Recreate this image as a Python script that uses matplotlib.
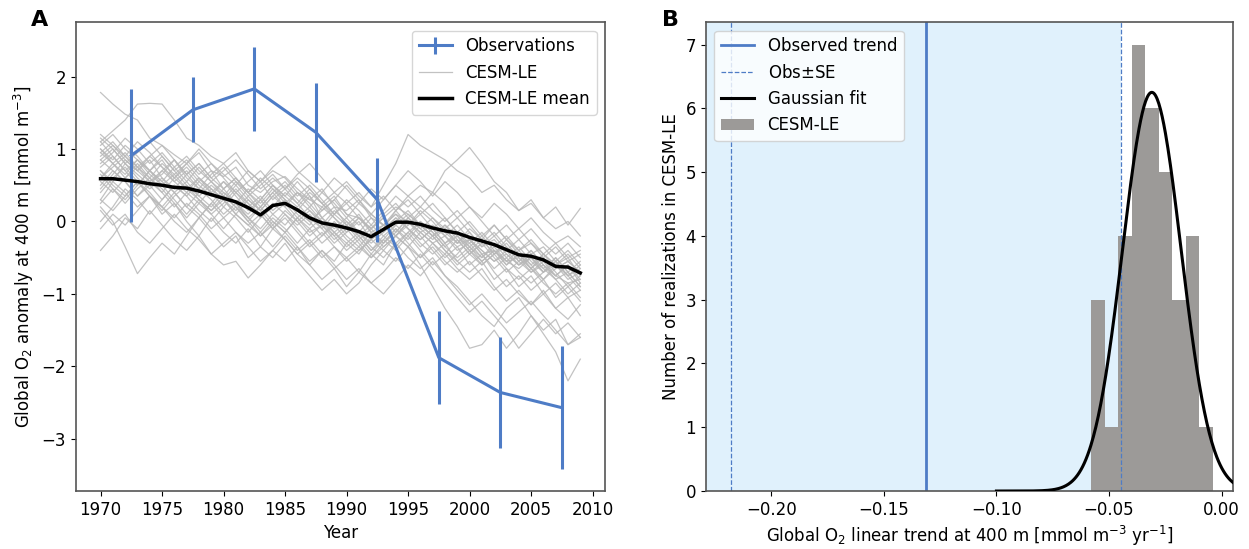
import numpy as np
import matplotlib
matplotlib.use("Agg")
from matplotlib import pyplot as plt

# ---- panel A data ----
years = np.arange(1970, 2010)

obs_years = [1972.5, 1977.5, 1982.5, 1987.5, 1992.5, 1997.5, 2002.5, 2007.5]
obs_vals = [0.91, 1.54, 1.83, 1.23, 0.30, -1.88, -2.36, -2.57]
obs_err = [0.92, 0.45, 0.58, 0.68, 0.58, 0.64, 0.76, 0.85]

le_mean = [0.59, 0.59, 0.57, 0.55, 0.52, 0.50, 0.47, 0.46, 0.42, 0.37,
           0.32, 0.27, 0.19, 0.09, 0.22, 0.25, 0.16, 0.05, -0.02, -0.05,
           -0.09, -0.14, -0.21, -0.11, -0.01, -0.01, -0.04, -0.09, -0.13, -0.16,
           -0.22, -0.27, -0.32, -0.39, -0.46, -0.48, -0.53, -0.62, -0.63, -0.71]

members = [
    [1.78, 1.62, 1.48, 1.40, 1.15, 1.05, 0.92, 0.80, 0.95, 0.70, 0.62, 0.75, 0.50, 0.40, 0.55, 0.62, 0.45, 0.30, 0.20, 0.35,
     0.10, 0.05, -0.10, 0.05, 0.20, 0.10, -0.05, -0.20, -0.10, -0.30, -0.25, -0.45, -0.40, -0.55, -0.50, -0.70, -0.60, -0.75, -0.85, -0.80],
    [1.10, 1.25, 1.40, 1.62, 1.63, 1.62, 1.40, 1.15, 1.05, 0.90, 0.80, 0.95, 0.70, 0.55, 0.70, 0.60, 0.40, 0.30, 0.45, 0.20,
     0.15, 0.30, 0.05, -0.05, 0.10, 0.00, -0.15, -0.05, -0.20, -0.35, -0.25, -0.40, -0.55, -0.45, -0.60, -0.50, -0.65, -0.80, -0.70, -0.90],
    [0.20, 0.00, -0.35, -0.72, -0.50, -0.30, -0.45, -0.20, 0.05, -0.15, -0.35, -0.20, -0.50, -0.35, -0.10, -0.25, -0.45, -0.60, -0.40, -0.55,
     -0.30, -0.45, -0.20, -0.05, 0.10, -0.10, -0.30, -0.45, -0.30, -0.55, -0.70, -0.55, -0.80, -0.65, -0.90, -0.75, -1.00, -0.85, -1.05, -0.95],
    [-0.40, -0.20, 0.05, -0.10, 0.15, -0.05, -0.25, -0.40, -0.20, -0.45, -0.60, -0.55, -0.78, -0.60, -0.40, -0.55, -0.35, -0.60, -0.80, -0.65,
     -0.90, -0.70, -0.45, -0.60, -0.30, -0.50, -0.65, -0.50, -0.75, -0.90, -1.10, -1.30, -1.45, -1.20, -1.05, -1.30, -1.50, -1.35, -1.70, -1.55],
    [0.30, 0.55, 0.40, 0.20, 0.35, 0.10, 0.25, 0.00, -0.20, 0.05, -0.15, -0.30, -0.10, -0.35, -0.50, -0.30, -0.55, -0.75, -0.95, -0.80,
     -1.00, -0.85, -0.60, -0.40, -0.55, -0.35, -0.60, -0.90, -1.20, -1.45, -1.75, -1.70, -1.50, -1.75, -1.55, -1.30, -1.55, -1.80, -2.20, -1.90],
    [0.60, 0.75, 0.90, 0.70, 0.55, 0.70, 0.85, 0.60, 0.45, 0.65, 0.80, 0.60, 0.40, 0.55, 0.30, 0.45, 0.60, 0.45, 0.25, 0.40,
     0.55, 0.35, 0.20, 0.50, 0.80, 1.20, 1.05, 0.95, 0.85, 0.70, 0.60, 0.40, 0.50, 0.30, 0.15, 0.25, 0.05, -0.10, 0.00, -0.20],
    [0.90, 1.05, 0.85, 0.70, 0.90, 0.75, 0.55, 0.70, 0.50, 0.35, 0.55, 0.40, 0.20, 0.35, 0.15, 0.30, 0.10, -0.05, 0.20, 0.05,
     -0.15, 0.00, -0.25, -0.10, 0.15, 0.35, 0.50, 0.40, 0.70, 0.85, 1.02, 0.80, 0.55, 0.40, 0.15, 0.30, 0.05, 0.20, -0.05, 0.18],
    [1.00, 0.85, 1.05, 0.90, 0.70, 0.85, 0.60, 0.75, 0.55, 0.70, 0.45, 0.60, 0.40, 0.25, 0.45, 0.30, 0.15, 0.35, 0.05, 0.20,
     -0.05, 0.10, -0.15, -0.05, -0.20, 0.00, -0.15, -0.30, -0.20, -0.40, -0.30, -0.50, -0.35, -0.55, -0.65, -0.50, -0.70, -0.60, -0.80, -0.70],
    [0.70, 0.55, 0.80, 0.65, 0.50, 0.30, 0.50, 0.35, 0.55, 0.40, 0.20, 0.40, 0.25, 0.05, 0.20, 0.40, 0.25, 0.05, -0.10, 0.10,
     -0.05, -0.25, -0.10, -0.30, -0.15, 0.05, -0.10, 0.05, -0.15, -0.30, -0.10, -0.25, -0.45, -0.30, -0.50, -0.65, -0.45, -0.60, -0.50, -0.75],
    [0.50, 0.70, 0.55, 0.35, 0.55, 0.40, 0.20, 0.40, 0.60, 0.45, 0.30, 0.10, 0.30, 0.15, 0.35, 0.50, 0.30, 0.15, 0.00, -0.20,
     -0.05, -0.20, -0.40, -0.20, -0.05, -0.20, 0.00, -0.15, -0.35, -0.20, -0.40, -0.55, -0.40, -0.60, -0.45, -0.60, -0.80, -0.65, -0.55, -0.70],
    [0.80, 0.95, 1.15, 1.00, 0.80, 0.95, 0.75, 0.90, 0.70, 0.55, 0.70, 0.85, 0.65, 0.45, 0.60, 0.45, 0.65, 0.80, 0.60, 0.40,
     0.25, 0.40, 0.20, 0.35, 0.15, 0.30, 0.10, 0.25, 0.05, -0.15, 0.00, -0.20, -0.05, -0.25, -0.40, -0.30, -0.50, -0.35, -0.55, -0.45],
    [0.30, 0.15, 0.35, 0.55, 0.40, 0.20, 0.05, 0.25, 0.10, -0.10, 0.05, 0.20, 0.00, -0.20, -0.05, -0.25, -0.45, -0.30, -0.50, -0.35,
     -0.55, -0.40, -0.25, -0.40, -0.20, -0.35, -0.15, -0.30, -0.50, -0.35, -0.60, -0.45, -0.70, -0.90, -0.75, -0.95, -0.80, -1.05, -0.90, -1.10],
    [1.15, 1.00, 0.80, 0.95, 1.10, 0.90, 0.70, 0.85, 0.65, 0.80, 0.60, 0.40, 0.55, 0.70, 0.50, 0.35, 0.55, 0.35, 0.15, 0.30,
     0.50, 0.30, 0.10, -0.05, 0.15, -0.05, 0.10, -0.10, 0.05, -0.15, -0.30, -0.15, -0.35, -0.20, -0.40, -0.25, -0.45, -0.60, -0.45, -0.65],
    [0.00, 0.20, 0.45, 0.30, 0.10, 0.30, 0.50, 0.35, 0.15, 0.00, 0.20, 0.05, -0.15, 0.05, 0.25, 0.10, -0.10, -0.30, -0.15, -0.35,
     -0.50, -0.35, -0.15, -0.30, -0.10, -0.30, -0.50, -0.35, -0.55, -0.70, -0.55, -0.75, -0.95, -0.80, -1.00, -1.15, -0.95, -1.20, -1.05, -1.30],
    [0.95, 0.80, 0.60, 0.75, 0.55, 0.65, 0.85, 0.65, 0.80, 0.60, 0.45, 0.60, 0.40, 0.20, 0.40, 0.55, 0.35, 0.50, 0.30, 0.10,
     0.25, 0.05, -0.10, 0.05, -0.15, 0.05, 0.20, 0.05, -0.10, 0.05, -0.15, -0.35, -0.20, -0.40, -0.25, -0.45, -0.35, -0.55, -0.40, -0.60],
    [0.65, 0.45, 0.25, 0.45, 0.60, 0.45, 0.25, 0.05, 0.25, 0.10, -0.10, 0.10, -0.05, -0.20, 0.00, -0.15, 0.05, -0.10, -0.30, -0.15,
     -0.35, -0.20, -0.40, -0.25, -0.40, -0.20, -0.40, -0.60, -0.45, -0.65, -0.80, -0.65, -0.90, -1.10, -0.95, -1.15, -1.00, -1.20, -1.35, -1.15],
    [1.20, 1.05, 0.90, 1.10, 0.95, 0.75, 0.60, 0.80, 1.00, 0.80, 0.65, 0.50, 0.70, 0.55, 0.75, 0.90, 0.70, 0.55, 0.40, 0.60,
     0.45, 0.25, 0.45, 0.30, 0.50, 0.35, 0.20, 0.40, 0.25, 0.05, 0.20, 0.00, -0.20, -0.05, -0.25, -0.10, -0.30, -0.45, -0.30, -0.50],
    [0.40, 0.60, 0.75, 0.55, 0.35, 0.15, 0.35, 0.50, 0.30, 0.10, 0.25, 0.45, 0.25, 0.10, -0.10, 0.10, -0.05, 0.10, -0.10, -0.30,
     -0.15, 0.05, -0.15, -0.35, -0.20, 0.00, -0.20, -0.40, -0.60, -0.45, -0.25, -0.45, -0.65, -0.50, -0.70, -0.85, -0.70, -0.50, -0.70, -0.90],
    [0.85, 0.70, 0.55, 0.35, 0.50, 0.70, 0.55, 0.40, 0.25, 0.45, 0.30, 0.15, 0.35, 0.15, -0.05, 0.15, 0.00, -0.20, -0.05, 0.15,
     0.00, -0.15, 0.05, -0.15, 0.00, 0.15, -0.05, -0.20, -0.05, -0.25, -0.45, -0.30, -0.15, -0.35, -0.55, -0.40, -0.60, -0.75, -0.60, -0.85],
    [-0.10, 0.10, -0.05, 0.15, 0.35, 0.20, 0.00, -0.15, 0.05, 0.25, 0.05, -0.15, -0.30, -0.15, -0.35, -0.15, -0.35, -0.55, -0.40, -0.60,
     -0.80, -0.65, -0.85, -0.70, -0.50, -0.65, -0.45, -0.65, -0.85, -1.05, -1.25, -1.10, -1.30, -1.50, -1.75, -1.55, -1.35, -1.55, -1.40, -1.60],
    [1.05, 1.20, 1.00, 0.85, 0.70, 0.55, 0.75, 0.55, 0.35, 0.50, 0.35, 0.55, 0.40, 0.60, 0.45, 0.25, 0.40, 0.20, 0.40, 0.25,
     0.05, 0.25, 0.10, 0.30, 0.50, 0.70, 0.55, 0.35, 0.55, 0.40, 0.20, 0.05, 0.25, 0.10, -0.10, 0.05, -0.15, -0.30, -0.20, -0.35],
    [0.55, 0.40, 0.60, 0.80, 0.60, 0.40, 0.60, 0.45, 0.30, 0.15, 0.35, 0.20, 0.05, -0.10, 0.10, -0.05, 0.15, 0.00, -0.20, -0.05,
     -0.25, -0.40, -0.25, -0.10, 0.05, -0.10, -0.25, -0.10, -0.30, -0.15, -0.35, -0.50, -0.30, -0.50, -0.35, -0.55, -0.70, -0.55, -0.75, -0.60],
    [0.75, 0.90, 0.70, 0.50, 0.70, 0.55, 0.40, 0.20, 0.40, 0.55, 0.35, 0.20, 0.00, 0.20, 0.40, 0.20, 0.00, 0.15, -0.05, -0.25,
     -0.10, -0.30, -0.50, -0.30, -0.10, -0.25, -0.05, -0.20, -0.40, -0.55, -0.40, -0.60, -0.45, -0.25, -0.45, -0.65, -0.50, -0.70, -0.90, -0.75],
    [0.15, -0.05, 0.10, -0.15, -0.30, -0.10, 0.10, -0.10, -0.25, -0.45, -0.30, -0.15, -0.35, -0.55, -0.40, -0.20, -0.40, -0.25, -0.45, -0.65,
     -0.50, -0.70, -0.85, -1.00, -0.80, -0.60, -0.75, -0.55, -0.75, -0.95, -1.15, -1.00, -1.20, -1.40, -1.25, -1.10, -1.30, -1.50, -1.70, -1.60],
    [0.95, 1.10, 0.90, 0.75, 0.60, 0.80, 0.65, 0.45, 0.60, 0.45, 0.30, 0.50, 0.30, 0.15, 0.35, 0.20, 0.40, 0.25, 0.05, -0.10,
     0.05, -0.15, -0.30, -0.15, 0.05, -0.10, -0.25, -0.10, -0.30, -0.20, -0.35, -0.20, -0.40, -0.55, -0.40, -0.60, -0.45, -0.65, -0.55, -0.70],
    [0.45, 0.65, 0.85, 0.70, 0.85, 0.60, 0.45, 0.65, 0.45, 0.30, 0.10, 0.25, 0.05, 0.20, 0.00, -0.15, 0.05, -0.15, -0.05, -0.20,
     -0.40, -0.25, -0.45, -0.25, -0.05, 0.10, -0.05, -0.20, -0.05, -0.20, -0.40, -0.25, -0.45, -0.35, -0.55, -0.70, -0.55, -0.75, -0.60, -0.80],
    [1.10, 0.90, 0.70, 0.85, 0.65, 0.50, 0.65, 0.80, 0.60, 0.40, 0.55, 0.35, 0.15, 0.30, 0.10, 0.25, 0.05, 0.20, 0.00, -0.15,
     0.00, -0.20, -0.05, -0.20, -0.35, -0.15, 0.00, -0.15, -0.35, -0.50, -0.35, -0.55, -0.40, -0.60, -0.45, -0.65, -0.80, -0.60, -0.75, -0.65],
    [0.25, 0.45, 0.30, 0.50, 0.70, 0.50, 0.30, 0.10, 0.30, 0.15, 0.30, 0.10, -0.05, 0.10, -0.10, 0.05, -0.15, -0.35, -0.20, 0.00,
     -0.20, -0.35, -0.50, -0.35, -0.20, -0.35, -0.50, -0.30, -0.45, -0.25, -0.45, -0.60, -0.45, -0.65, -0.80, -0.65, -0.85, -1.00, -0.85, -1.05],
    [0.85, 1.00, 0.80, 0.60, 0.45, 0.60, 0.40, 0.55, 0.75, 0.55, 0.40, 0.25, 0.45, 0.30, 0.50, 0.30, 0.15, 0.00, 0.15, 0.30,
     0.10, -0.05, 0.10, -0.05, -0.20, -0.05, 0.15, 0.00, -0.20, -0.05, -0.25, -0.40, -0.55, -0.40, -0.60, -0.50, -0.70, -0.55, -0.75, -0.95],
    [0.60, 0.80, 0.65, 0.85, 0.70, 0.90, 0.70, 0.50, 0.35, 0.20, 0.40, 0.25, 0.10, 0.30, 0.50, 0.35, 0.20, 0.40, 0.25, 0.05,
     -0.10, 0.05, -0.10, 0.10, 0.25, 0.05, -0.10, -0.25, -0.10, -0.30, -0.15, -0.35, -0.25, -0.45, -0.60, -0.45, -0.65, -0.50, -0.70, -0.55],
    [0.70, 0.50, 0.35, 0.55, 0.35, 0.20, 0.40, 0.20, 0.05, 0.25, 0.45, 0.25, 0.05, -0.15, 0.05, -0.10, -0.30, -0.10, 0.05, -0.15,
     -0.30, -0.15, -0.35, -0.50, -0.30, -0.15, -0.35, -0.20, -0.40, -0.60, -0.45, -0.30, -0.50, -0.70, -0.55, -0.40, -0.60, -0.80, -1.00, -0.85],
    [1.00, 0.80, 0.95, 0.75, 0.90, 1.05, 0.85, 0.65, 0.80, 0.60, 0.75, 0.55, 0.35, 0.50, 0.65, 0.45, 0.25, 0.45, 0.25, 0.10,
     0.30, 0.15, -0.05, 0.15, 0.35, 0.20, 0.35, 0.15, 0.00, 0.15, -0.05, -0.25, -0.05, -0.25, -0.10, -0.30, -0.45, -0.30, -0.50, -0.40],
]

# ---- panel B data ----
obs_trend = -0.1312
obs_se = 0.0865
shade_right = -0.0448
hist_lo, hist_hi = -0.0578, -0.0040
hist_counts = [3, 1, 4, 7, 6, 5, 3, 4, 1]
fit_mu, fit_sigma, fit_amp = -0.031, 0.013, 6.25

BLUE = '#4e7cc6'
GREY = '#b8b8b8'
FS = 12

fig = plt.figure(figsize=(12.49, 5.49), dpi=100)
axA = fig.add_axes([0.0608, 0.1056, 0.4235, 0.854])
axB = fig.add_axes([0.5652, 0.1056, 0.4219, 0.854])

# Panel A
for i, m in enumerate(members):
    axA.plot(years, m, color=GREY, lw=0.9, alpha=0.85,
             label='CESM-LE' if i == 0 else None, zorder=1)
axA.plot(years, le_mean, color='black', lw=2.5, label='CESM-LE mean', zorder=3)
axA.errorbar(obs_years, obs_vals, yerr=obs_err, color=BLUE, lw=2.2,
             elinewidth=2.2, label='Observations', zorder=2)
axA.set_xlim(1968, 2011)
axA.set_ylim(-3.72, 2.75)
axA.set_xticks(range(1970, 2011, 5))
axA.set_yticks([-3, -2, -1, 0, 1, 2])
axA.set_xlabel('Year', fontsize=FS)
axA.set_ylabel('Global O$_2$ anomaly at 400 m [mmol m$^{-3}$]', fontsize=FS)
h, l = axA.get_legend_handles_labels()
order = [l.index('Observations'), l.index('CESM-LE'), l.index('CESM-LE mean')]
axA.legend([h[k] for k in order], [l[k] for k in order], loc='upper right',
           fontsize=FS, framealpha=0.8)

# Panel B
axB.axvspan(-0.3, shade_right, color='#e0f1fc', lw=0, zorder=0)
edges = np.linspace(hist_lo, hist_hi, len(hist_counts) + 1)
axB.bar(edges[:-1], hist_counts, width=np.diff(edges), align='edge',
        color='#9c9a98', lw=0, label='CESM-LE', zorder=1)
axB.axvline(obs_trend, color=BLUE, lw=2, label='Observed trend', zorder=2)
axB.axvline(obs_trend - obs_se, color=BLUE, lw=0.9, ls='--', label='Obs$\\pm$SE', zorder=2)
axB.axvline(obs_trend + obs_se, color=BLUE, lw=0.9, ls='--', zorder=2)
xg = np.linspace(-0.10, 0.01, 300)
axB.plot(xg, fit_amp * np.exp(-(xg - fit_mu) ** 2 / (2 * fit_sigma ** 2)),
         color='black', lw=2.2, label='Gaussian fit', zorder=3)
axB.set_xlim(-0.229, 0.005)
axB.set_ylim(0, 7.35)
axB.set_xticks([-0.20, -0.15, -0.10, -0.05, 0.00])
axB.set_xticklabels(['\u22120.20', '\u22120.15', '\u22120.10', '\u22120.05', '0.00'])
axB.set_yticks(range(8))
axB.set_xlabel('Global O$_2$ linear trend at 400 m [mmol m$^{-3}$ yr$^{-1}$]', fontsize=FS)
axB.set_ylabel('Number of realizations in CESM-LE', fontsize=FS)
h, l = axB.get_legend_handles_labels()
order = [l.index('Observed trend'), l.index('Obs$\\pm$SE'), l.index('Gaussian fit'), l.index('CESM-LE')]
axB.legend([h[k] for k in order], [l[k] for k in order], loc='upper left',
           fontsize=FS, framealpha=0.8)

for ax in (axA, axB):
    ax.tick_params(labelsize=FS)
    for s in ax.spines.values():
        s.set_color('#555555')
        s.set_linewidth(1.2)

fig.text(0.025, 0.953, 'A', fontsize=16, fontweight='bold')
fig.text(0.530, 0.953, 'B', fontsize=16, fontweight='bold')

fig.savefig('out.png', dpi=100)
